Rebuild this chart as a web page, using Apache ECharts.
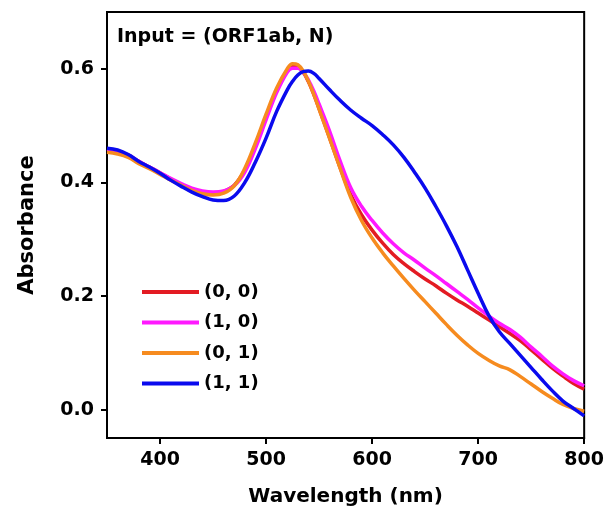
<!DOCTYPE html>
<html>
<head>
<meta charset="utf-8">
<script src="https://cdn.jsdelivr.net/npm/echarts@6/dist/echarts.min.js"></script>
<style>html,body{margin:0;padding:0;background:#fff;}#chart{width:607px;height:515px;}</style>
</head>
<body>
<div id="chart"></div>
<script>
var wavelength = [350,360,370,380,390,400,410,420,430,440,450,460,470,480,490,500,510,520,525,530,535,540,545,550,560,570,580,590,600,610,620,630,640,650,660,670,680,690,700,710,720,730,740,750,760,770,780,790,800];

var s00 = [0.458,0.455,0.448,0.437,0.427,0.417,0.406,0.396,0.388,0.383,0.381,0.384,0.395,0.422,0.465,0.515,0.562,0.597,0.604,0.603,0.594,0.577,0.555,0.530,0.478,0.425,0.378,0.343,0.316,0.293,0.273,0.257,0.243,0.230,0.218,0.205,0.193,0.182,0.170,0.158,0.146,0.134,0.121,0.105,0.089,0.073,0.059,0.046,0.036];

var s10 = [0.458,0.455,0.448,0.437,0.427,0.417,0.407,0.398,0.390,0.385,0.383,0.385,0.394,0.418,0.460,0.510,0.558,0.594,0.601,0.601,0.594,0.580,0.561,0.538,0.490,0.437,0.390,0.358,0.333,0.311,0.292,0.276,0.263,0.249,0.236,0.222,0.208,0.194,0.179,0.165,0.152,0.141,0.127,0.110,0.094,0.077,0.063,0.051,0.042];

var s01 = [0.453,0.450,0.444,0.433,0.424,0.414,0.404,0.395,0.386,0.380,0.378,0.381,0.394,0.425,0.470,0.520,0.566,0.600,0.609,0.607,0.596,0.578,0.555,0.529,0.477,0.424,0.373,0.333,0.302,0.276,0.253,0.231,0.210,0.190,0.170,0.150,0.131,0.114,0.099,0.087,0.077,0.070,0.058,0.045,0.032,0.020,0.009,0.002,-0.003];

var s11 = [0.460,0.457,0.449,0.437,0.427,0.416,0.404,0.393,0.383,0.375,0.369,0.368,0.376,0.400,0.436,0.478,0.525,0.563,0.578,0.589,0.595,0.596,0.592,0.583,0.563,0.544,0.527,0.513,0.500,0.484,0.466,0.444,0.418,0.390,0.358,0.324,0.287,0.246,0.205,0.166,0.137,0.116,0.095,0.074,0.053,0.033,0.015,0.002,-0.011];

var seriesNames = ['(0, 0)', '(1, 0)', '(0, 1)', '(1, 1)'];
var seriesValues = [s00, s10, s01, s11];
var seriesColors = ['#e31b23', '#ff19ff', '#f68b1f', '#0a0aee'];

var xTicks = [400, 500, 600, 700, 800];
var yTicks = [0, 0.2, 0.4, 0.6];

var FONT = 'DejaVu Sans';

function pairs(vals) {
  return wavelength.map(function (w, i) { return [w, vals[i]]; });
}

var chart = echarts.init(document.getElementById('chart'), null, {renderer: 'canvas'});
chart.setOption({
  backgroundColor: '#fff',
  animation: false,
  title: {
    text: 'Input = (ORF1ab, N)',
    left: 117, top: 27, padding: 0,
    textStyle: {fontFamily: FONT, fontSize: 19, fontWeight: 'bold', color: '#000', lineHeight: 20}
  },
  legend: {
    orient: 'vertical', left: 142, top: 282, padding: 0,
    itemWidth: 57, itemHeight: 4, itemGap: 10.5, icon: 'rect',
    data: seriesNames,
    textStyle: {fontFamily: FONT, fontSize: 18, fontWeight: 'bold', color: '#000', lineHeight: 20}
  },
  grid: {left: 107, right: 21, top: 12, bottom: 77, show: true, borderColor: '#000', borderWidth: 2, backgroundColor: 'transparent'},
  xAxis: {
    type: 'value', min: 350, max: 800,
    name: 'Wavelength (nm)', nameLocation: 'middle', nameGap: 49,
    nameTextStyle: {fontFamily: FONT, fontSize: 20, fontWeight: 'bold', color: '#000'},
    axisLine: {show: true, onZero: false, lineStyle: {color: '#000', width: 2}},
    axisTick: {show: true, length: 6, lineStyle: {color: '#000', width: 2}, customValues: xTicks},
    axisLabel: {fontFamily: FONT, fontSize: 19, fontWeight: 'bold', color: '#000', margin: 13, customValues: xTicks},
    splitLine: {show: false}
  },
  yAxis: {
    type: 'value', min: -0.05, max: 0.7,
    name: 'Absorbance', nameLocation: 'middle', nameGap: 69, nameRotate: 90,
    nameTextStyle: {fontFamily: FONT, fontSize: 21, fontWeight: 'bold', color: '#000'},
    axisLine: {show: true, onZero: false, lineStyle: {color: '#000', width: 2}},
    axisTick: {show: true, length: 6, lineStyle: {color: '#000', width: 2}, customValues: yTicks},
    axisLabel: {fontFamily: FONT, fontSize: 19, fontWeight: 'bold', color: '#000', margin: 13, customValues: yTicks,
      formatter: function (v) { return v.toFixed(1); }},
    splitLine: {show: false}
  },
  series: seriesNames.map(function (n, i) {
    return {
      name: n, type: 'line', data: pairs(seriesValues[i]),
      smooth: 0.4, showSymbol: false, symbol: 'none',
      lineStyle: {color: seriesColors[i], width: 3.5},
      itemStyle: {color: seriesColors[i]},
      z: 2 + i
    };
  })
});
</script>
</body>
</html>
